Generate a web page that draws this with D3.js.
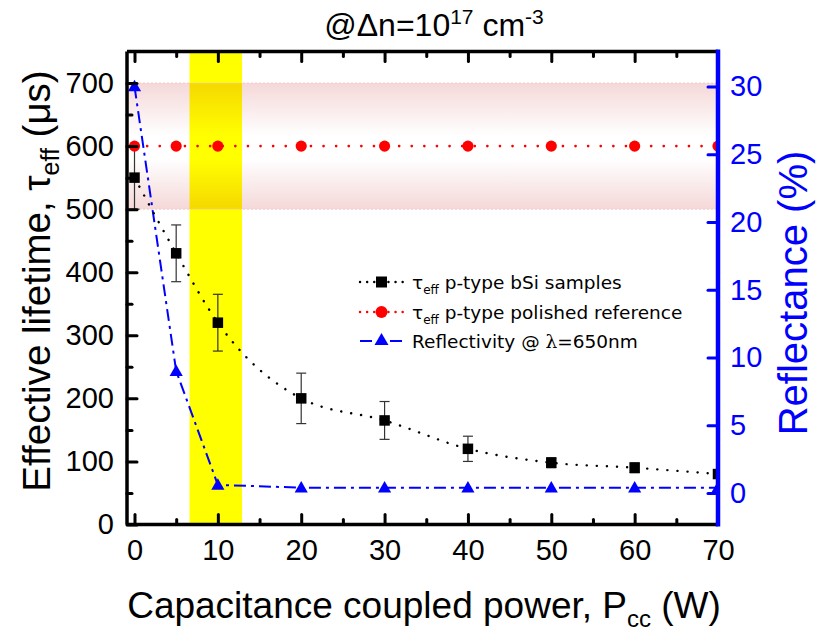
<!DOCTYPE html>
<html><head><meta charset="utf-8">
<script src="https://cdn.jsdelivr.net/npm/d3@7"></script>
<style>body{margin:0;background:#fff} svg{display:block}</style>
</head><body>
<svg id="chart" width="816" height="637"></svg>
<script>
// Lifetime and reflectance versus capacitance-coupled plasma power
const power        = [0, 5, 10, 20, 30, 40, 50, 60, 70];
const lifetimeBSi  = [550, 430, 320, 200, 165, 120, 98, 90, 80];
const lifetimeErr  = [50, 45, 45, 40, 30, 20, 8, 8, 5];
const lifetimeRef  = [600, 600, 600, 600, 600, 600, 600, 600, 600];
const reflectance  = [30, 9, 0.6, 0.4, 0.4, 0.4, 0.4, 0.4, 0.4];
const xTicks       = [0, 10, 20, 30, 40, 50, 60, 70];
const xMinorTicks  = [5, 15, 25, 35, 45, 55, 65];
const yLeftTicks   = [0, 100, 200, 300, 400, 500, 600, 700];
const yLeftMinor   = [50, 150, 250, 350, 450, 550, 650];
const yRightTicks  = [0, 5, 10, 15, 20, 25, 30];
const refBand      = [500, 700];
const optimumRange = [6.6, 12.9];

const svg = d3.select("#chart");
const L = 127, R = 718, T = 51.5, B = 524.5;
const FONT = "'Liberation Sans', Arial, sans-serif";
const LEG_FONT = "'DejaVu Sans', Verdana, sans-serif";

const x  = d3.scaleLinear().domain([-0.9, 70]).range([L, R]);
const yL = d3.scaleLinear().domain([0, 750]).range([B, T]);
const yR = d3.scaleLinear().domain([-2.32, 32.58]).range([B, T]);

const defs = svg.append("defs");
const grad = defs.append("linearGradient").attr("id", "bandGrad")
  .attr("x1", 0).attr("y1", 0).attr("x2", 0).attr("y2", 1);
grad.append("stop").attr("offset", "0%").attr("stop-color", "#f5d8d8");
grad.append("stop").attr("offset", "42%").attr("stop-color", "#ffffff");
grad.append("stop").attr("offset", "60%").attr("stop-color", "#ffffff");
grad.append("stop").attr("offset", "100%").attr("stop-color", "#f5d8d8");
defs.append("clipPath").attr("id", "plotClip").append("rect")
  .attr("x", L).attr("y", T).attr("width", R - L).attr("height", B - T);

const plot = svg.append("g").attr("clip-path", "url(#plotClip)");

// highlighted power window
plot.append("rect")
  .attr("x", x(optimumRange[0])).attr("y", T)
  .attr("width", x(optimumRange[1]) - x(optimumRange[0])).attr("height", B - T)
  .attr("fill", "#ffff00");

// polished reference lifetime band
plot.append("rect")
  .attr("x", L).attr("y", yL(refBand[1]))
  .attr("width", R - L).attr("height", yL(refBand[0]) - yL(refBand[1]))
  .attr("fill", "url(#bandGrad)").style("mix-blend-mode", "multiply");
[refBand[0], refBand[1]].forEach(v => {
  plot.append("line").attr("x1", L).attr("x2", R).attr("y1", yL(v)).attr("y2", yL(v))
    .attr("stroke", "#f2caca").attr("stroke-width", 1).attr("stroke-dasharray", "2,2");
});

const idx = d3.range(power.length);

// reflectance (right axis)
plot.append("path")
  .datum(idx)
  .attr("d", d3.line().x(i => x(power[i])).y(i => yR(reflectance[i])))
  .attr("fill", "none").attr("stroke", "#0000ff").attr("stroke-width", 2)
  .attr("stroke-dasharray", "12,5,3,5");

// polished reference
plot.append("path")
  .datum(idx)
  .attr("d", d3.line().x(i => x(power[i])).y(i => yL(lifetimeRef[i])))
  .attr("fill", "none").attr("stroke", "#ff0000").attr("stroke-width", 2.6)
  .attr("stroke-dasharray", "0.1,12.5").attr("stroke-linecap", "round");

// bSi lifetime
plot.append("path")
  .datum(idx)
  .attr("d", d3.line().curve(d3.curveMonotoneX).x(i => x(power[i])).y(i => yL(lifetimeBSi[i])))
  .attr("fill", "none").attr("stroke", "#000").attr("stroke-width", 2.4)
  .attr("stroke-dasharray", "0.1,10").attr("stroke-linecap", "round");

// error bars
const eb = plot.append("g").attr("stroke", "#333").attr("stroke-width", 1.2);
idx.forEach(i => {
  const cx = x(power[i]);
  const y1 = yL(lifetimeBSi[i] - lifetimeErr[i]), y2 = yL(lifetimeBSi[i] + lifetimeErr[i]);
  eb.append("line").attr("x1", cx).attr("x2", cx).attr("y1", y1).attr("y2", y2);
  eb.append("line").attr("x1", cx - 5).attr("x2", cx + 5).attr("y1", y1).attr("y2", y1);
  eb.append("line").attr("x1", cx - 5).attr("x2", cx + 5).attr("y1", y2).attr("y2", y2);
});

// markers
const sq = 10.5;
plot.selectAll(".sq").data(idx).join("rect")
  .attr("x", i => x(power[i]) - sq / 2).attr("y", i => yL(lifetimeBSi[i]) - sq / 2)
  .attr("width", sq).attr("height", sq).attr("fill", "#000");
plot.selectAll(".ci").data(idx).join("circle")
  .attr("cx", i => x(power[i])).attr("cy", i => yL(lifetimeRef[i]))
  .attr("r", 5.6).attr("fill", "#ff0000");
const tri = d3.symbol().type(d3.symbolTriangle).size(75);
plot.selectAll(".tr").data(idx).join("path")
  .attr("transform", i => `translate(${x(power[i])},${yR(reflectance[i]) + 1})`)
  .attr("d", tri).attr("fill", "#0000ff");

// frame and axes
const axisStyle = g => {
  g.select(".domain").remove();
  g.selectAll(".tick line").attr("stroke", "currentColor").attr("stroke-width", 3).attr("stroke-linecap", "round");
  g.selectAll(".tick text").attr("font-family", FONT).attr("font-size", 29);
};

svg.append("line").attr("x1", L).attr("x2", R).attr("y1", T).attr("y2", T)
  .attr("stroke", "#000").attr("stroke-width", 3.5);
svg.append("line").attr("x1", L).attr("x2", R).attr("y1", B).attr("y2", B)
  .attr("stroke", "#000").attr("stroke-width", 3.5);
svg.append("line").attr("x1", L).attr("x2", L).attr("y1", T).attr("y2", B)
  .attr("stroke", "#000").attr("stroke-width", 3.5);

// bottom axis
svg.append("g").attr("transform", `translate(0,${B})`)
  .call(d3.axisBottom(x).tickValues(xTicks).tickSize(-10).tickPadding(15).tickFormat(d3.format("d")))
  .call(axisStyle).attr("color", "#000");
svg.append("g").attr("transform", `translate(0,${B})`)
  .call(d3.axisBottom(x).tickValues(xMinorTicks).tickSize(-5).tickFormat(""))
  .call(axisStyle).attr("color", "#000");
// top axis
svg.append("g").attr("transform", `translate(0,${T})`)
  .call(d3.axisTop(x).tickValues(xTicks).tickSize(-10).tickFormat(""))
  .call(axisStyle).attr("color", "#000");
svg.append("g").attr("transform", `translate(0,${T})`)
  .call(d3.axisTop(x).tickValues(xMinorTicks).tickSize(-5).tickFormat(""))
  .call(axisStyle).attr("color", "#000");
// left axis
svg.append("g").attr("transform", `translate(${L},0)`)
  .call(d3.axisLeft(yL).tickValues(yLeftTicks).tickSize(-10).tickPadding(13).tickFormat(d3.format("d")))
  .call(axisStyle).attr("color", "#000");
svg.append("g").attr("transform", `translate(${L},0)`)
  .call(d3.axisLeft(yL).tickValues(yLeftMinor).tickSize(-5).tickFormat(""))
  .call(axisStyle).attr("color", "#000");
// right axis (reflectance)
svg.append("line").attr("x1", R).attr("x2", R).attr("y1", T - 2).attr("y2", B + 2)
  .attr("stroke", "#0000ff").attr("stroke-width", 4.5);
svg.append("g").attr("transform", `translate(${R},0)`)
  .call(d3.axisRight(yR).tickValues(yRightTicks).tickSize(-10).tickPadding(12).tickFormat(d3.format("d")))
  .call(axisStyle).attr("color", "#0000ff");

// axis titles
const xt = svg.append("text").attr("x", 424).attr("y", 618).attr("text-anchor", "middle")
  .attr("font-family", FONT).attr("font-size", 37).attr("fill", "#000");
xt.append("tspan").text("Capacitance coupled power, P");
xt.append("tspan").attr("font-size", 24).attr("dy", 9).text("cc");
xt.append("tspan").attr("dy", -9).text(" (W)");

const yt = svg.append("text").attr("transform", "translate(50,281) rotate(-90)").attr("text-anchor", "middle")
  .attr("font-family", FONT).attr("font-size", 38.5).attr("fill", "#000");
yt.append("tspan").text("Effective lifetime, τ");
yt.append("tspan").attr("font-size", 25).attr("dy", 9).text("eff");
yt.append("tspan").attr("dy", -9).text(" (μs)");

svg.append("text").attr("transform", "translate(807,293) rotate(-90)").attr("text-anchor", "middle")
  .attr("font-family", FONT).attr("font-size", 40).attr("fill", "#0000ff").text("Reflectance (%)");

// title
const tt = svg.append("text").attr("x", 434).attr("y", 36).attr("text-anchor", "middle")
  .attr("font-family", FONT).attr("font-size", 32).attr("fill", "#000");
tt.append("tspan").text("@Δn=10");
tt.append("tspan").attr("font-size", 21).attr("dy", -12).text("17");
tt.append("tspan").attr("dy", 12).text(" cm");
tt.append("tspan").attr("font-size", 21).attr("dy", -12).text("-3");

// legend
const legend = svg.append("g").attr("font-family", LEG_FONT).attr("font-size", 18.5);
const rows = [
  {y: 282, stroke: "#000", dash: "0.1,7", w: 2.4, cap: "round", sym: "square", fill: "#000", label: "p-type bSi samples", tau: true},
  {y: 312, stroke: "#ff0000", dash: "0.1,7", w: 2.4, cap: "round", sym: "circle", fill: "#ff0000", label: "p-type polished reference", tau: true},
  {y: 341, stroke: "#0000ff", dash: "12,18", w: 2, cap: "butt", sym: "triangle", fill: "#0000ff", label: "Reflectivity @ ", tau: false}
];
rows.forEach(r => {
  legend.append("line").attr("x1", 360).attr("x2", 403).attr("y1", r.y).attr("y2", r.y)
    .attr("stroke", r.stroke).attr("stroke-width", r.w).attr("stroke-dasharray", r.dash).attr("stroke-linecap", r.cap);
  if (r.sym === "square") legend.append("rect").attr("x", 381.5 - 5.5).attr("y", r.y - 5.5).attr("width", 11).attr("height", 11).attr("fill", r.fill);
  if (r.sym === "circle") legend.append("circle").attr("cx", 381.5).attr("cy", r.y).attr("r", 6).attr("fill", r.fill);
  if (r.sym === "triangle") legend.append("path").attr("transform", `translate(381.5,${r.y})`).attr("d", d3.symbol().type(d3.symbolTriangle).size(85)).attr("fill", r.fill);
  const t = legend.append("text").attr("x", 412).attr("y", r.y + 7).attr("fill", "#000");
  if (r.tau) {
    t.append("tspan").text("τ");
    t.append("tspan").attr("font-size", 12).attr("dy", 5).text("eff");
    t.append("tspan").attr("dy", -5).text(" " + r.label);
  } else {
    t.append("tspan").text(r.label);
    t.append("tspan").attr("font-family", "'DejaVu Serif', serif").text("λ");
    t.append("tspan").text("=650nm");
  }
});
</script>
</body></html>
